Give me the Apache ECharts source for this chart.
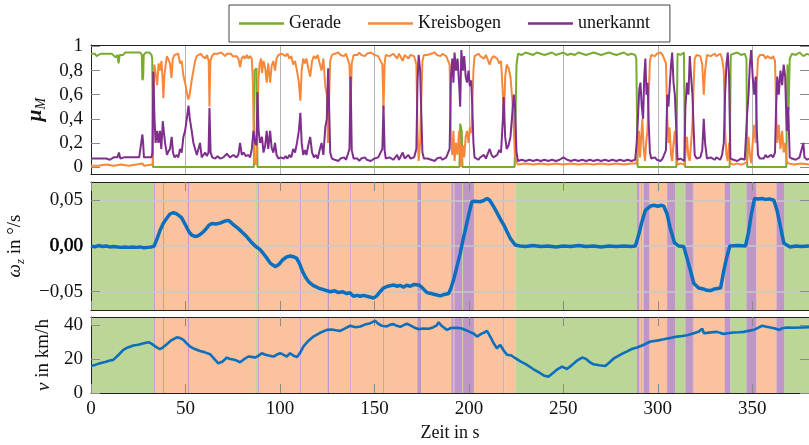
<!DOCTYPE html>
<html>
<head>
<meta charset="utf-8">
<script src="https://cdn.jsdelivr.net/npm/echarts@6/dist/echarts.min.js"></script>
<style>
html,body{margin:0;padding:0;background:#fff;}
#chart{width:809px;height:445px;}
</style>
</head>
<body>
<div id="chart"></div>
<script>
// Time axis (s) and tick positions
const timeTicks = [0, 50, 100, 150, 200, 250, 300, 350];
const muTicks = [0, 0.2, 0.4, 0.6, 0.8, 1];
const omegaTicks = [-0.05, 0, 0.05];
const speedTicks = [0, 20, 40];
const seriesNames = ['Gerade', 'Kreisbogen', 'unerkannt'];

// Membership of the manoeuvre classes, [t in s, mu]
const muGerade = [
  [0,0.94],[1,0.93],[2,0.94],[3,0.92],[4,0.93],[5,0.94],[6,0.93],[7,0.94],[8,0.95],[9,0.94],[10,0.93],
  [11,0.94],[12,0.93],[13,0.91],[14,0.93],[14.6,0.86],[15.2,0.93],[16,0.94],[17,0.93],[18,0.95],[19,0.94],
  [20,0.95],[21,0.94],[22,0.95],[23,0.94],[24,0.95],[25,0.94],[26,0.95],[26.9,0.93],[27.2,0.72],[27.6,0.74],
  [27.9,0.93],[29,0.95],[30,0.94],[31,0.95],[32,0.93],[32.4,0.9],[32.8,0.0],[86.2,0.0],[86.5,0.8],[87.6,0.82],
  [88.1,0.0],[195.0,0.0],[195.4,0.36],[196.2,0.3],[196.6,0.0],[224.2,0.0],[225.2,0.85],[226,0.94],[228,0.93],
  [230,0.95],[232,0.94],[234,0.93],[236,0.95],[238,0.94],[240,0.93],[242,0.94],[244,0.95],[246,0.93],[248,0.94],
  [250,0.95],[252,0.93],[254,0.94],[256,0.93],[258,0.95],[260,0.94],[262,0.93],[264,0.94],[266,0.95],[268,0.94],
  [270,0.93],[272,0.94],[274,0.95],[276,0.94],[278,0.93],[280,0.94],[282,0.95],[284,0.93],[286,0.94],[288,0.93],
  [288.6,0.9],[289.3,0.0],[309.8,0.0],[310.4,0.94],[312,0.93],[313.8,0.95],[314.4,0.0],[338.0,0.0],[338.6,0.93],
  [340,0.94],[342,0.95],[344,0.93],[346,0.94],[346.9,0.9],[347.3,0.0],[368.0,0.0],[368.6,0.85],[369.2,0.47],
  [369.8,0.9],[371,0.94],[373,0.93],[375,0.95],[377,0.92],[379,0.94],[380,0.93]
];
const muKreisbogen = [
  [0,0.01],[4,0.01],[8,0.02],[12,0.01],[16,0.02],[20,0.01],[24,0.02],[27.2,0.03],[28,0.01],[32.6,0.02],
  [33.0,0.5],[33.5,0.85],[34.2,0.78],[35,0.68],[35.8,0.86],[36.5,0.8],[37.3,0.88],[38.0,0.7],[38.3,0.57],
  [38.8,0.75],[39.5,0.85],[40.2,0.92],[41.0,0.93],[41.8,0.86],[42.6,0.74],[43.3,0.9],[44.2,0.93],[45.2,0.92],
  [46.2,0.94],[47.1,0.86],[48.0,0.88],[48.9,0.76],[49.8,0.7],[50.7,0.62],[51.5,0.56],[52.2,0.6],[53.3,0.72],
  [54.2,0.8],[55.1,0.88],[56.0,0.92],[57,0.93],[58,0.94],[59,0.92],[60.4,0.9],[61.4,0.93],[62.3,0.88],[62.7,0.5],
  [63.2,0.88],[64,0.92],[65,0.94],[66,0.93],[67,0.94],[68,0.93],[69,0.95],[70,0.94],[71,0.92],[72,0.94],
  [73,0.93],[74,0.94],[75,0.92],[76,0.93],[77,0.92],[78,0.9],[78.9,0.83],[79.7,0.9],[80.7,0.92],[81.6,0.9],
  [82.5,0.93],[83.3,0.9],[84.2,0.92],[85.1,0.9],[85.7,0.7],[86.3,0.05],[87.3,0.02],[87.8,0.3],[88.6,0.72],
  [89.2,0.85],[90,0.9],[90.5,0.78],[91.3,0.88],[92.2,0.82],[93.0,0.7],[93.8,0.86],[94.8,0.7],[95.6,0.84],
  [96.5,0.88],[97.4,0.8],[98.2,0.9],[99.2,0.93],[100.1,0.92],[101,0.94],[102,0.93],[103,0.92],[104,0.94],
  [105,0.9],[106,0.92],[107,0.85],[108,0.88],[109,0.8],[110,0.7],[110.8,0.55],[111.5,0.8],[112.3,0.9],
  [113.2,0.86],[114,0.9],[115,0.82],[116,0.75],[117,0.88],[118,0.92],[119,0.9],[120,0.93],[121,0.86],[122,0.8],
  [123,0.9],[124,0.67],[124.8,0.6],[125.4,0.2],[126,0.55],[126.6,0.88],[127.5,0.93],[129,0.94],[130,0.93],
  [131,0.95],[132,0.93],[133,0.94],[134,0.92],[135,0.94],[136,0.93],[136.8,0.85],[137.4,0.5],[138,0.86],
  [139,0.93],[140,0.94],[141,0.93],[142,0.95],[143,0.93],[144,0.94],[145,0.92],[146,0.94],[147,0.93],[148,0.95],
  [149,0.94],[150,0.93],[151,0.94],[152,0.92],[153,0.93],[154.2,0.85],[154.8,0.47],[155.4,0.86],[156,0.93],
  [157,0.94],[158,0.92],[159,0.93],[160,0.94],[161,0.93],[162,0.9],[163,0.94],[164,0.93],[165,0.88],[166,0.93],
  [167,0.94],[168,0.9],[169,0.93],[170,0.94],[171,0.92],[172.2,0.85],[172.8,0.3],[173.4,0.05],[174.2,0.2],
  [174.8,0.55],[175.4,0.88],[176.2,0.93],[177,0.94],[178,0.93],[179,0.92],[180,0.94],[181,0.93],[182,0.95],
  [183,0.93],[184,0.94],[185,0.92],[186,0.94],[187,0.93],[188,0.92],[189,0.93],[189.8,0.85],[190.5,0.25],
  [191.2,0.1],[191.8,0.3],[192.4,0.05],[193.2,0.2],[194.0,0.1],[194.8,0.3],[195.4,0.15],[196.0,0.0],[196.8,0.18],
  [197.5,0.08],[198.3,0.25],[199.0,0.3],[199.8,0.2],[200.5,0.33],[201.2,0.28],[201.8,0.5],[202.4,0.8],[203,0.92],
  [204,0.93],[205,0.94],[206,0.92],[207,0.93],[208,0.9],[209,0.93],[210,0.94],[211,0.85],[212,0.9],[213,0.92],
  [214,0.93],[215,0.9],[216,0.86],[217,0.88],[218,0.6],[218.6,0.4],[219.2,0.75],[220,0.85],[221,0.82],[222,0.75],
  [223,0.55],[223.8,0.3],[224.4,0.1],[225.2,0.04],[226,0.02],[230,0.03],[234,0.02],[238,0.03],[242,0.02],
  [246,0.03],[250,0.02],[254,0.03],[258,0.02],[262,0.03],[266,0.02],[270,0.03],[274,0.02],[278,0.03],[282,0.02],
  [286,0.03],[288.6,0.03],[289.3,0.1],[290,0.3],[290.6,0.08],[291.2,0.25],[291.8,0.4],[292.5,0.15],[293.2,0.05],
  [293.8,0.2],[294.5,0.3],[295.2,0.6],[295.8,0.88],[296.5,0.93],[297.5,0.94],[298.5,0.92],[299.5,0.94],
  [300.5,0.93],[301.5,0.95],[302.5,0.93],[303.5,0.92],[304.3,0.86],[305,0.4],[305.6,0.2],[306.2,0.33],[307,0.1],
  [307.6,0.05],[308.3,0.2],[309,0.3],[309.8,0.1],[310.4,0.02],[312,0.03],[314,0.02],[314.6,0.1],[315.4,0.25],
  [316.2,0.08],[316.9,0.05],[317.6,0.2],[318.3,0.35],[319,0.7],[319.5,0.9],[320.5,0.93],[321.5,0.94],[322.5,0.92],
  [323.5,0.85],[324.3,0.6],[325,0.8],[326,0.93],[327,0.94],[328,0.92],[329,0.93],[330,0.94],[331,0.92],[332,0.93],
  [333,0.94],[334,0.9],[334.9,0.8],[335.6,0.3],[336.3,0.1],[337,0.05],[337.7,0.2],[338.4,0.03],[340,0.02],
  [342,0.03],[344,0.02],[346,0.03],[347.3,0.05],[348,0.25],[348.7,0.1],[349.4,0.03],[350.2,0.2],[351,0.35],
  [351.8,0.2],[352.4,0.7],[353,0.9],[354,0.93],[355,0.92],[356,0.93],[357,0.9],[358,0.92],[359,0.93],[360,0.9],
  [361,0.92],[362,0.88],[362.6,0.5],[363.2,0.2],[364,0.35],[364.9,0.15],[365.8,0.3],[366.6,0.12],[367.4,0.2],
  [368.2,0.05],[369,0.03],[372,0.02],[376,0.03],[380,0.02]
];
const muUnerkannt = [
  [0,0.07],[1,0.06],[2,0.07],[3,0.06],[4,0.07],[5,0.06],[6,0.07],[7,0.06],[8,0.07],[9,0.07],[10,0.06],
  [11,0.07],[12,0.08],[13,0.09],[14,0.08],[14.8,0.12],[15.5,0.07],[16.5,0.07],[17.5,0.08],[18.5,0.07],
  [19.5,0.08],[20.5,0.07],[21.5,0.08],[22.5,0.07],[23.5,0.08],[24.5,0.07],[25.5,0.08],[26.5,0.07],[27.2,0.27],
  [27.6,0.2],[28,0.08],[29,0.07],[30,0.08],[31,0.07],[32,0.08],[32.5,0.12],[33.0,0.79],[33.6,0.4],[34.2,0.2],
  [35,0.3],[35.7,0.2],[36.5,0.3],[37.2,0.15],[38.0,0.38],[38.5,0.3],[39.2,0.2],[40.2,0.1],[41,0.13],[41.8,0.15],
  [42.7,0.25],[43.4,0.12],[44.2,0.08],[45.4,0.1],[46.2,0.08],[47.1,0.15],[48,0.12],[48.9,0.25],[49.8,0.3],
  [50.7,0.4],[51.6,0.51],[52.3,0.4],[53.3,0.3],[54.2,0.2],[55.1,0.15],[56,0.1],[56.8,0.1],[57.7,0.2],[58.6,0.08],
  [59.5,0.1],[60.4,0.12],[61.3,0.09],[62.2,0.12],[62.7,0.49],[63.3,0.12],[64.2,0.08],[65.7,0.07],[67,0.09],
  [68.3,0.07],[70,0.08],[71.9,0.11],[73.5,0.08],[75.4,0.1],[77,0.08],[78,0.1],[78.9,0.2],[79.8,0.1],[80.7,0.12],
  [82,0.09],[83.3,0.1],[84.2,0.08],[85.1,0.15],[86.0,0.3],[86.9,0.2],[87.6,0.18],[88.1,0.62],[88.7,0.3],
  [89.5,0.2],[90.5,0.25],[91.3,0.12],[92.2,0.18],[93,0.3],[93.8,0.15],[94.8,0.3],[95.6,0.16],[96.5,0.12],
  [97.4,0.2],[98.2,0.1],[99.2,0.07],[100.5,0.08],[102,0.07],[103,0.09],[104,0.07],[105,0.1],[106,0.08],
  [107,0.15],[108,0.12],[109,0.2],[110,0.3],[110.8,0.45],[111.5,0.2],[112.3,0.1],[113.2,0.14],[114,0.1],
  [115,0.18],[116,0.25],[117,0.12],[118,0.08],[119,0.1],[120,0.07],[121,0.14],[122,0.2],[123,0.1],[124,0.33],
  [124.8,0.4],[125.5,0.82],[126.1,0.45],[126.6,0.12],[127.5,0.07],[129,0.06],[130,0.07],[131,0.05],[132,0.07],
  [133,0.06],[134,0.08],[135,0.06],[136,0.07],[136.8,0.15],[137.4,0.75],[138,0.14],[139,0.07],[140,0.06],
  [141,0.07],[142,0.05],[143,0.07],[144,0.06],[145,0.08],[146,0.06],[147,0.07],[148,0.05],[149,0.06],[150,0.07],
  [151,0.06],[152,0.08],[153,0.07],[154.2,0.15],[154.8,0.51],[155.4,0.14],[156,0.07],[157,0.06],[158,0.08],
  [159,0.07],[160,0.06],[161,0.07],[162,0.1],[163,0.06],[164,0.07],[165,0.12],[166,0.07],[167,0.06],[168,0.1],
  [169,0.07],[170,0.06],[171,0.08],[172.2,0.15],[172.8,0.7],[173.4,0.93],[174.2,0.8],[174.8,0.45],[175.4,0.12],
  [176.2,0.07],[177,0.06],[178,0.07],[179,0.08],[180,0.06],[181,0.07],[182,0.05],[183,0.07],[184,0.06],
  [185,0.08],[186,0.06],[187,0.07],[188,0.08],[189,0.07],[189.8,0.15],[190.5,0.75],[191.2,0.9],[191.8,0.7],
  [192.4,0.95],[193.2,0.8],[194.0,0.9],[194.8,0.7],[195.4,0.5],[196.0,0.97],[196.8,0.8],[197.5,0.92],[198.3,0.75],
  [199.0,0.7],[199.8,0.8],[200.5,0.67],[201.2,0.72],[201.8,0.5],[202.4,0.2],[203,0.08],[204,0.07],[205,0.06],
  [206,0.08],[207,0.07],[208,0.1],[209,0.07],[210,0.06],[211,0.15],[212,0.1],[213,0.08],[214,0.07],[215,0.1],
  [216,0.14],[217,0.12],[218,0.4],[218.4,0.58],[219.2,0.25],[220,0.15],[221,0.18],[222,0.25],[223,0.45],
  [223.8,0.6],[224.4,0.5],[225.2,0.12],[226,0.05],[228,0.06],[230,0.05],[232,0.06],[234,0.05],[236,0.06],
  [238,0.05],[240,0.06],[242,0.05],[244,0.06],[246,0.05],[248,0.06],[250,0.08],[252,0.06],[254,0.05],[256,0.06],
  [258,0.05],[260,0.06],[262,0.05],[264,0.06],[266,0.05],[268,0.06],[270,0.05],[272,0.06],[274,0.05],[276,0.06],
  [278,0.05],[280,0.06],[282,0.05],[284,0.06],[286,0.05],[288,0.06],[288.8,0.2],[289.6,0.45],[290.2,0.65],
  [290.8,0.7],[291.5,0.5],[292.2,0.4],[292.8,0.75],[293.4,0.9],[294,0.6],[294.6,0.7],[295.2,0.35],[295.8,0.12],
  [296.5,0.07],[297.5,0.06],[298.5,0.08],[299.5,0.06],[300.5,0.07],[301.5,0.05],[302.5,0.07],[303.5,0.08],
  [304.3,0.14],[305,0.6],[305.6,0.5],[306.2,0.65],[307,0.85],[307.6,0.95],[308.3,0.7],[309,0.6],[309.8,0.3],
  [310.4,0.06],[312,0.07],[314,0.05],[314.6,0.5],[315.4,0.7],[316.2,0.6],[316.9,0.92],[317.6,0.75],[318.3,0.6],
  [319,0.3],[319.5,0.1],[320.5,0.07],[321.5,0.06],[322.5,0.08],[323.5,0.14],[324.3,0.4],[325,0.2],[326,0.07],
  [327,0.06],[328,0.08],[329,0.07],[330,0.06],[331,0.08],[332,0.07],[333,0.06],[334,0.1],[334.9,0.2],[335.6,0.6],
  [336.3,0.85],[337,0.95],[337.7,0.75],[338.4,0.07],[340,0.06],[342,0.05],[344,0.07],[346,0.06],[347.3,0.45],
  [348,0.6],[348.7,0.85],[349.4,0.97],[350.2,0.75],[351,0.6],[351.8,0.75],[352.4,0.3],[353,0.1],[354,0.07],
  [355,0.08],[356,0.07],[357,0.1],[358,0.08],[359,0.07],[360,0.1],[361,0.08],[362,0.12],[362.6,0.5],[363.2,0.75],
  [364,0.6],[364.9,0.8],[365.8,0.68],[366.6,0.85],[367.4,0.75],[368.2,0.3],[369,0.5],[369.8,0.08],[371,0.07],
  [373,0.06],[375,0.08],[377,0.2],[377.6,0.08],[379,0.06],[380,0.07]
];

// Yaw rate omega_z, [t in s, value]
const omegaZ = [
  [0,0.0],[2,-0.001],[4,0.0005],[6,-0.0005],[8,0.0],[10,-0.001],[12,-0.0005],[14,-0.001],[16,-0.0015],
  [18,-0.001],[20,-0.0015],[22,-0.001],[24,-0.0015],[26,-0.001],[28,-0.002],[30,-0.0015],[32,-0.001],
  [33.4,0.0],[35,0.008],[36.5,0.017],[38.3,0.025],[40,0.03],[41.8,0.035],[43.6,0.0365],[45.5,0.035],
  [47.9,0.031],[50,0.023],[52,0.015],[53.3,0.012],[55,0.0105],[56.5,0.011],[58,0.013],[59.5,0.0156],[61,0.019],
  [62.5,0.023],[64,0.0245],[66,0.024],[68.3,0.025],[70.5,0.027],[72.7,0.028],[74,0.026],[75.5,0.023],[78,0.019],
  [80,0.015],[82.5,0.01],[84.5,0.005],[86.9,0.0],[89.5,-0.004],[91.5,-0.009],[93,-0.013],[95,-0.019],
  [97.5,-0.0226],[99.5,-0.02],[101.5,-0.015],[103.5,-0.012],[105.4,-0.011],[107.5,-0.012],[108.9,-0.0135],
  [110.5,-0.02],[112,-0.028],[113.5,-0.034],[115.1,-0.039],[117.5,-0.043],[120.4,-0.046],[123.5,-0.048],
  [126.6,-0.05],[129,-0.049],[131,-0.051],[133,-0.05],[135.4,-0.052],[137,-0.051],[138.9,-0.055],[141,-0.054],
  [142.5,-0.055],[144.2,-0.054],[146,-0.055],[148,-0.056],[149.5,-0.057],[151,-0.055],[153,-0.05],[154.8,-0.046],
  [157,-0.044],[160.1,-0.0426],[162,-0.044],[163.5,-0.043],[165.4,-0.045],[167,-0.043],[169,-0.044],[171,-0.042],
  [173.4,-0.0426],[175,-0.045],[177.8,-0.051],[180,-0.052],[182,-0.053],[184.9,-0.0546],[187,-0.053],
  [189.3,-0.052],[190.5,-0.046],[191.9,-0.037],[193.5,-0.024],[195.4,-0.008],[196.8,0.006],[198.1,0.0175],
  [200,0.035],[201.6,0.0484],[203,0.049],[206,0.0484],[208,0.05],[209.6,0.052],[211,0.05],[213.1,0.043],
  [215,0.036],[217,0.028],[218.5,0.023],[220.2,0.0156],[222,0.008],[224.6,0.001],[227,0.0],[230,-0.0005],
  [234,0.0005],[238,-0.0005],[242,0.0],[246,-0.001],[250,0.0],[254,-0.0005],[258,0.0005],[262,-0.0005],
  [266,0.0],[270,-0.001],[274,0.0],[278,-0.0005],[282,0.0],[286,-0.0005],[288.1,0.0],[290,0.013],[291.5,0.026],
  [293.4,0.039],[296.1,0.0437],[298,0.0445],[300,0.0435],[302,0.0445],[303.1,0.0437],[304.9,0.035],[306.5,0.02],
  [308.8,0.0036],[311,0.0],[313.7,-0.0005],[315,-0.01],[317,-0.025],[319,-0.0407],[321.6,-0.046],[324,-0.047],
  [326,-0.0485],[327.9,-0.0488],[330,-0.047],[333.2,-0.046],[335,-0.026],[336.5,-0.012],[338.1,0.0],
  [342,0.0005],[346.4,0.0],[348,0.015],[349.5,0.035],[351.2,0.052],[353,0.0515],[355,0.052],[357,0.051],
  [359,0.0515],[361.4,0.05],[363.1,0.039],[364.5,0.025],[366.7,0.003],[370,-0.001],[373,0.0],[376,-0.0005],
  [380,0.0]
];

// Vehicle speed, [t in s, km/h]
const speed = [
  [0,16.0],[2.5,16.8],[4.8,17.6],[7.5,18.4],[10,19.2],[11.8,19.6],[14.5,22.5],[17.1,25.5],[19.5,27.0],
  [22.4,28.1],[25,28.6],[27.5,29.3],[30.4,30.1],[32,29.2],[34.2,27.5],[36.5,25.9],[38.3,27.2],[40.1,28.9],
  [42.5,31.2],[45.4,33.0],[47,32.6],[48.9,31.5],[50.5,29.5],[52.4,27.5],[55,26],[57.7,24.9],[60,24.2],
  [63,23.0],[65,20.5],[67.4,17.6],[69.5,18.5],[71.9,21.0],[73,20.3],[74.5,20.0],[76.5,19.5],[78.9,18.2],
  [81,20],[83.3,21.6],[85,21.4],[86.9,21.0],[88.5,22],[90.4,23.5],[92,22.8],[93.9,22.2],[96.6,21.6],
  [98.5,22.8],[100.1,23.5],[102,22.6],[103.6,21.6],[105.4,23.5],[107,22.2],[108.9,21.2],[110.5,23.5],
  [112.4,27.5],[115,30.8],[117.7,33.4],[121,35.5],[124.8,37.4],[127.5,37.6],[129.5,37.2],[131.9,36.8],
  [134.5,38.3],[137.2,39.8],[140,38.9],[142.5,39.4],[145,40.5],[147.5,41.2],[150.4,42.7],[152,41],[154,39.8],
  [156.6,39.4],[158.5,40.5],[160.1,40.8],[161.8,39.8],[163.7,39.2],[165.5,40.2],[167.2,41.0],[169,40],
  [171,38.8],[173.4,37.8],[176,38.2],[178.7,38.0],[181,38.8],[183,40],[184,41.9],[185.5,39.8],[188.4,37.4],
  [190.5,38.5],[193.7,38.6],[196.3,38.2],[198.5,37.2],[200.7,36.0],[202.5,35.2],[204.3,33.4],[206.5,35],
  [208.5,36],[209.6,36.8],[211.5,33],[213.1,29.5],[214.8,26.5],[216.6,28.5],[218.5,25],[220.2,22.6],
  [222.5,22.2],[224.6,20.6],[227.5,18.6],[230.8,16.6],[234,14.2],[237.8,11.7],[240,10.2],[242.2,9.7],
  [244.5,11.8],[247,14.2],[249.3,15.6],[251.9,14.2],[254.5,16.5],[257,19],[259.9,21.0],[262,20.2],[264,18.2],
  [266,17.0],[269,16.4],[272.2,16.0],[274.5,18.2],[276.5,20.3],[278.4,21.6],[281,23.2],[284,24.8],[286.5,26.2],
  [289,26.9],[292,28.3],[296.1,30.5],[299.5,31.0],[303.1,31.8],[306.5,32.6],[310.2,33.4],[313,33.8],
  [316,34.3],[319,35.4],[321.5,36.2],[323.5,38.0],[324.4,35.4],[326,35.6],[328,35.9],[331.4,36.2],[333,35.6],
  [334.9,35.0],[337,35.4],[340,35.8],[343,36.0],[345.5,36.2],[348,36.8],[350.8,37.4],[353,38.6],[355.2,39.8],
  [357.5,39.2],[359.6,38.8],[362,38.2],[364,37.4],[366,38.3],[368.4,38.8],[372,38.6],[376,38.8],[380,38.9]
];

// Detected class per time span: [start s, end s, class]
// G = Gerade, K = Kreisbogen, U = unerkannt
const segments = [
  [0,33.4,'G'],[33.4,33.9,'U'],[33.9,38.1,'K'],[38.1,38.6,'U'],[38.6,51.3,'K'],[51.3,51.8,'U'],
  [51.8,86.9,'K'],[86.9,88.1,'G'],[88.1,88.3,'K'],[88.3,88.8,'U'],[88.8,110.7,'K'],[110.7,111.2,'U'],
  [111.2,125.2,'K'],[125.2,126.1,'U'],[126.1,137.2,'K'],[137.2,137.7,'U'],[137.7,154.6,'K'],[154.6,155.1,'U'],
  [155.1,172.7,'K'],[172.7,174.8,'U'],[174.8,190.7,'K'],[190.7,191.9,'U'],[191.9,192.3,'K'],[192.3,196.5,'U'],
  [196.5,196.9,'G'],[196.9,202.6,'U'],[202.6,218.2,'K'],[218.2,218.7,'U'],[218.7,224.6,'K'],[224.6,289.0,'G'],
  [289.0,290.3,'U'],[290.3,291.2,'K'],[291.2,291.7,'U'],[291.7,292.4,'K'],[292.4,295.6,'U'],[295.6,304.9,'K'],
  [304.9,309.3,'U'],[309.3,314.6,'G'],[314.6,318.5,'U'],[318.5,318.9,'K'],[318.9,319.3,'U'],[319.3,335.4,'K'],
  [335.4,338.4,'U'],[338.4,346.9,'G'],[346.9,352.2,'U'],[352.2,362.8,'K'],[362.8,367.0,'U'],[367.0,380,'G']
];
const classOrder = ['G', 'K', 'U'];

// Styling
const lineColors = ['#77ac30', '#f7883a', '#7e2f8e'];
const bandColors = ['#bcd698', '#fac39e', '#bf97c6'];
const blue = '#0b6fbd';
const FONT = "'Liberation Serif', 'DejaVu Serif', serif";
const tickStyle = { color: '#8a8a8a', width: 1 };
const frameStyle = { color: '#222', width: 1 };

const T_MIN = 0, T_MAX = 380;

const bandData = segments.map(s => [s[0], s[1], classOrder.indexOf(s[2])]);

function renderBand(params, api) {
  const x0 = api.coord([api.value(0), 0])[0];
  const x1 = api.coord([api.value(1), 0])[0];
  const cs = params.coordSys;
  return {
    type: 'rect',
    shape: { x: x0, y: cs.y, width: x1 - x0 + 0.2, height: cs.height },
    style: { fill: bandColors[api.value(2)] }
  };
}

function timeAxis(gridIndex, position, opts) {
  return Object.assign({
    type: 'value', gridIndex, position, min: T_MIN, max: T_MAX, interval: 50,
    axisLine: { show: true, onZero: false, lineStyle: frameStyle },
    axisTick: { show: true, inside: true, length: 9, lineStyle: tickStyle, customValues: timeTicks },
    axisLabel: { show: false },
    splitLine: { show: false },
    z: 3
  }, opts || {});
}

function valueAxis(gridIndex, position, min, max, ticks, opts) {
  return Object.assign({
    type: 'value', gridIndex, position, min, max,
    axisLine: { show: true, onZero: false, lineStyle: frameStyle },
    axisTick: { show: true, inside: true, length: 9, lineStyle: tickStyle, customValues: ticks },
    axisLabel: { show: false },
    splitLine: { show: false },
    z: 3
  }, opts || {});
}

const labelStyle = { fontFamily: FONT, fontSize: 19, color: '#111' };

const fmtMu = v => (v === 0 ? '0' : v === 1 ? '1' : v.toFixed(1).replace('.', ','));
const fmtOmega = v => (v === 0 ? '{z|0,00}' : (v < 0 ? '\u2212' : '') + Math.abs(v).toFixed(2).replace('.', ','));

const gridBase = { left: 91, width: 718, containLabel: false, outerBoundsMode: 'none' };

const chart = echarts.init(document.getElementById('chart'), null, { renderer: 'canvas' });

chart.setOption({
  animation: false,
  backgroundColor: '#fff',
  legend: {
    data: seriesNames.map(n => ({ name: n, icon: 'rect' })),
    left: 229, top: 5,
    padding: [9, 20, 9, 10],
    itemGap: 27, itemWidth: 45, itemHeight: 2.5,
    borderColor: '#444', borderWidth: 1,
    textStyle: { fontFamily: FONT, fontSize: 18, color: '#111', lineHeight: 19 }
  },
  grid: [
    Object.assign({ top: 45, height: 129 }, gridBase),
    Object.assign({ top: 182, height: 128 }, gridBase),
    Object.assign({ top: 317, height: 76 }, gridBase)
  ],
  xAxis: [
    timeAxis(0, 'bottom', { axisTick: { show: false }, splitLine: { show: true, lineStyle: { color: '#b4b4b4', width: 1 } }, z: 0 }),
    timeAxis(0, 'top', { axisTick: { show: false }, z: 0 }),
    timeAxis(1, 'bottom'),
    timeAxis(1, 'top'),
    timeAxis(2, 'bottom', {
      axisLabel: Object.assign({ show: true, margin: 7, customValues: timeTicks }, labelStyle),
      name: 'Zeit in s', nameLocation: 'middle', nameGap: 31,
      nameTextStyle: { fontFamily: FONT, fontSize: 18, color: '#111' }
    }),
    timeAxis(2, 'top')
  ],
  yAxis: [
    valueAxis(0, 'left', -0.058, 1.0125, muTicks, {
      axisLabel: Object.assign({ show: true, customValues: muTicks, formatter: fmtMu, margin: 8 }, labelStyle),
      name: '{m|\u03bc}{s|M}', nameLocation: 'middle', nameRotate: 90, nameGap: 36,
      nameTextStyle: {
        rich: {
          m: { fontFamily: FONT, fontSize: 21, fontStyle: 'italic', fontWeight: 'bold', color: '#111', lineHeight: 26 },
          s: { fontFamily: FONT, fontSize: 14, fontStyle: 'italic', color: '#111', lineHeight: 14, verticalAlign: 'bottom' }
        }
      },
      z: 0
    }),
    valueAxis(0, 'right', -0.058, 1.0125, muTicks, { z: 0 }),
    valueAxis(1, 'left', -0.07, 0.07, omegaTicks, {
      interval: 0.07,
      splitLine: { show: true, lineStyle: { color: '#c9c9c9', width: 1.5 } },
      axisLabel: Object.assign({
        show: true, customValues: omegaTicks, formatter: fmtOmega, margin: 8,
        rich: { z: { fontFamily: FONT, fontSize: 19, color: '#000', textBorderColor: '#000', textBorderWidth: 0.6 } }
      }, labelStyle),
      name: '{w|\u03c9}{s|z}{n| in \u00b0/s}', nameLocation: 'middle', nameRotate: 90, nameGap: 64,
      nameTextStyle: {
        rich: {
          w: { fontFamily: FONT, fontSize: 19, fontStyle: 'italic', color: '#111', lineHeight: 24 },
          s: { fontFamily: FONT, fontSize: 13, fontStyle: 'italic', color: '#111', lineHeight: 13, verticalAlign: 'bottom' },
          n: { fontFamily: FONT, fontSize: 19, color: '#111', lineHeight: 24 }
        }
      }
    }),
    valueAxis(1, 'right', -0.07, 0.07, omegaTicks),
    valueAxis(2, 'left', 0, 45, speedTicks, {
      axisLabel: Object.assign({ show: true, customValues: speedTicks, margin: 8 }, labelStyle),
      name: '{v|v}{n| in km/h}', nameLocation: 'middle', nameRotate: 90, nameGap: 38,
      nameTextStyle: {
        rich: {
          v: { fontFamily: FONT, fontSize: 19, fontStyle: 'italic', color: '#111' },
          n: { fontFamily: FONT, fontSize: 19, color: '#111' }
        }
      }
    }),
    valueAxis(2, 'right', 0, 45, speedTicks)
  ],
  series: [
    { name: seriesNames[0], type: 'line', xAxisIndex: 0, yAxisIndex: 0, data: muGerade, showSymbol: false, symbol: 'none',
      lineStyle: { color: lineColors[0], width: 2 }, itemStyle: { color: lineColors[0] }, z: 2 },
    { name: seriesNames[1], type: 'line', xAxisIndex: 0, yAxisIndex: 0, data: muKreisbogen, showSymbol: false, symbol: 'none',
      lineStyle: { color: lineColors[1], width: 2 }, itemStyle: { color: lineColors[1] }, z: 2 },
    { name: seriesNames[2], type: 'line', xAxisIndex: 0, yAxisIndex: 0, data: muUnerkannt, showSymbol: false, symbol: 'none',
      lineStyle: { color: lineColors[2], width: 2 }, itemStyle: { color: lineColors[2] }, z: 2 },
    { type: 'custom', xAxisIndex: 2, yAxisIndex: 2, data: bandData, renderItem: renderBand,
      encode: { x: [0, 1] }, silent: true, z: 1 },
    { type: 'custom', xAxisIndex: 4, yAxisIndex: 4, data: bandData, renderItem: renderBand,
      encode: { x: [0, 1] }, silent: true, z: 1 },
    { type: 'line', xAxisIndex: 2, yAxisIndex: 2, data: omegaZ, showSymbol: false, symbol: 'none',
      lineStyle: { color: blue, width: 3.5 }, z: 5 },
    { type: 'line', xAxisIndex: 4, yAxisIndex: 4, data: speed, showSymbol: false, symbol: 'none',
      lineStyle: { color: blue, width: 2.6 }, z: 5 }
  ]
});
</script>
</body>
</html>
